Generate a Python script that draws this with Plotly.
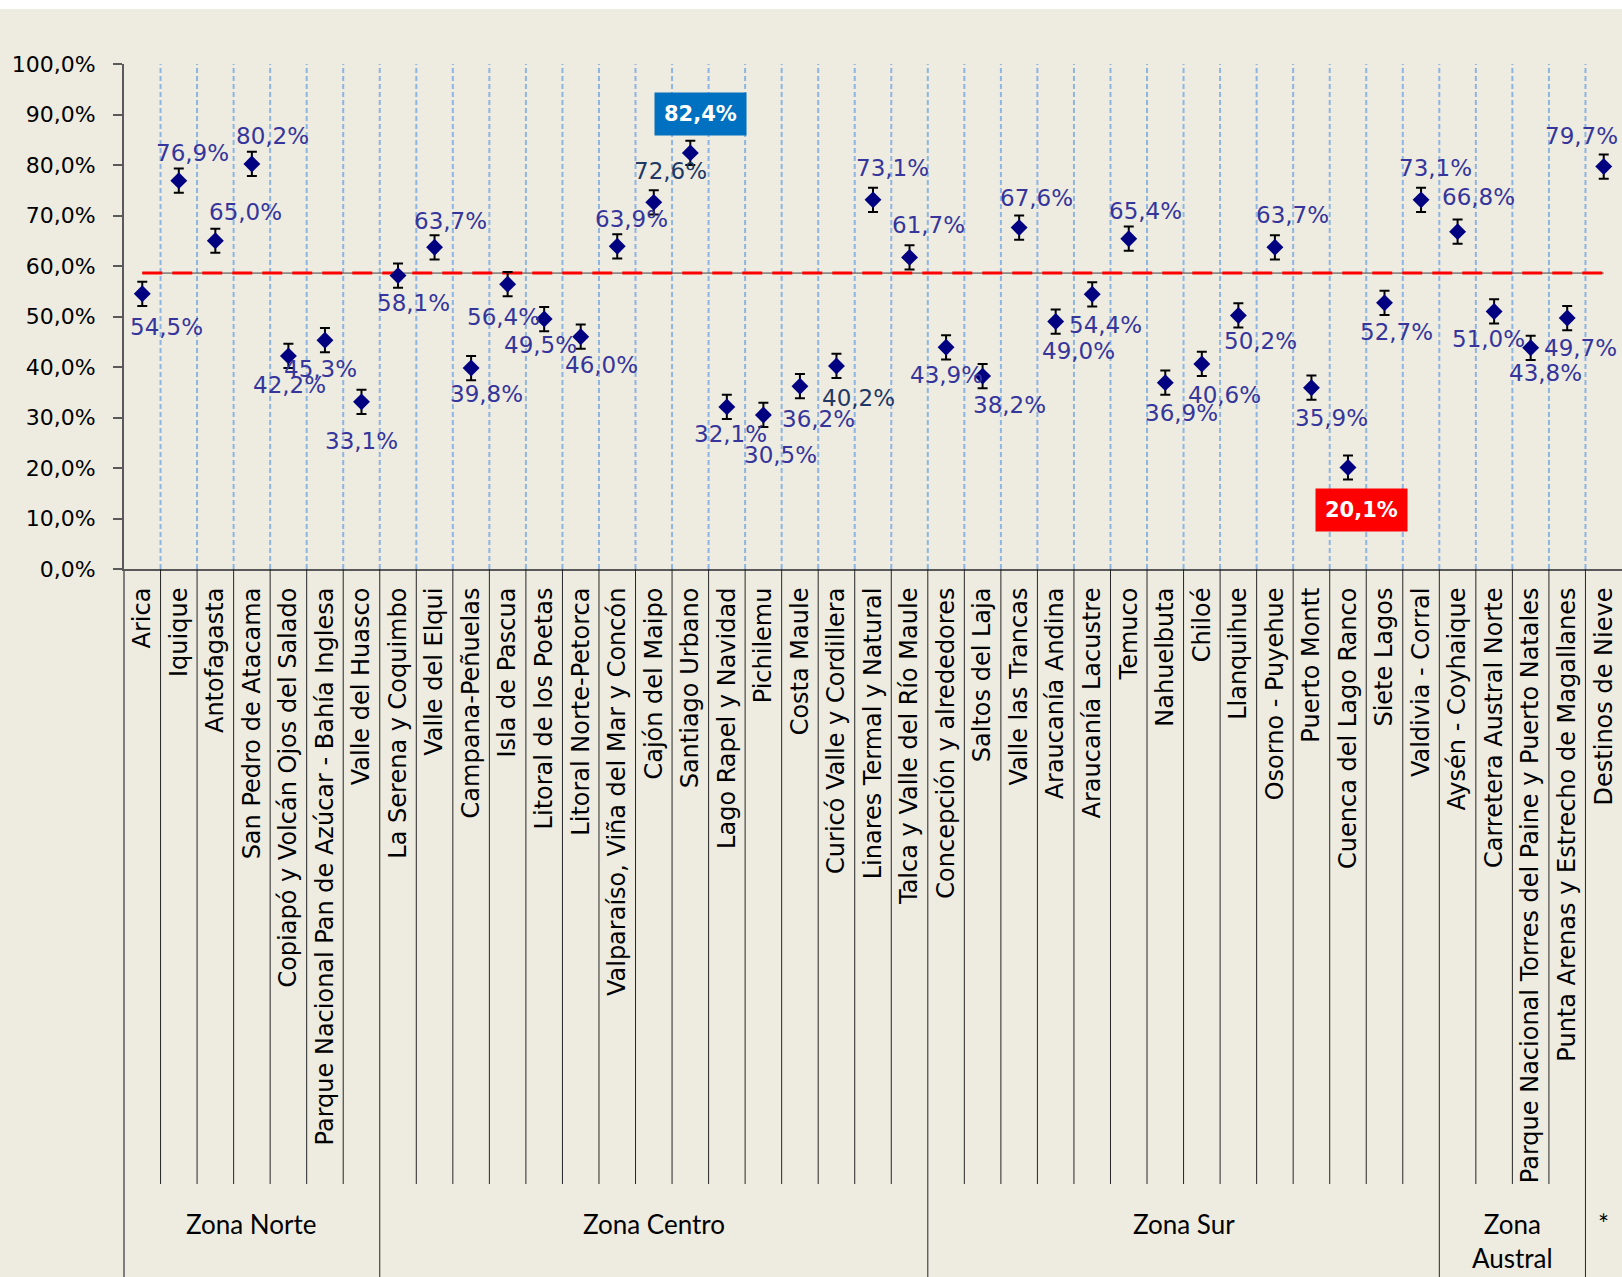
import plotly.graph_objects as go

# ---------------- data ----------------
categories = [
    "Arica", "Iquique", "Antofagasta", "San Pedro de Atacama",
    "Copiapó y Volcán Ojos del Salado", "Parque Nacional Pan de Azúcar - Bahía Inglesa",
    "Valle del Huasco",
    "La Serena y Coquimbo", "Valle del Elqui", "Campana-Peñuelas", "Isla de Pascua",
    "Litoral de los Poetas", "Litoral Norte-Petorca", "Valparaíso, Viña del Mar y Concón",
    "Cajón del Maipo", "Santiago Urbano", "Lago Rapel y Navidad", "Pichilemu",
    "Costa Maule", "Curicó Valle y Cordillera", "Linares Termal y Natural",
    "Talca y Valle del Río Maule",
    "Concepción y alrededores", "Saltos del Laja", "Valle las Trancas", "Araucanía Andina",
    "Araucanía Lacustre", "Temuco", "Nahuelbuta", "Chiloé", "Llanquihue",
    "Osorno - Puyehue", "Puerto Montt", "Cuenca del Lago Ranco", "Siete Lagos",
    "Valdivia - Corral",
    "Aysén - Coyhaique", "Carretera Austral Norte",
    "Parque Nacional Torres del Paine y Puerto Natales",
    "Punta Arenas y Estrecho de Magallanes",
    "Destinos de Nieve",
]

values = [
    54.5, 76.9, 65.0, 80.2, 42.2, 45.3, 33.1,
    58.1, 63.7, 39.8, 56.4, 49.5, 46.0, 63.9, 72.6, 82.4, 32.1, 30.5, 36.2, 40.2, 73.1, 61.7,
    43.9, 38.2, 67.6, 49.0, 54.4, 65.4, 36.9, 40.6, 50.2, 63.7, 35.9, 20.1, 52.7, 73.1,
    66.8, 51.0, 43.8, 49.7,
    79.7,
]

errors = [
    2.4, 2.4, 2.4, 2.4, 2.4, 2.4, 2.4,
    2.4, 2.4, 2.4, 2.4, 2.4, 2.4, 2.4, 2.4, 2.4, 2.4, 2.4, 2.4, 2.4, 2.4, 2.4,
    2.4, 2.4, 2.4, 2.4, 2.4, 2.4, 2.4, 2.4, 2.4, 2.4, 2.4, 2.4, 2.4, 2.4,
    2.4, 2.4, 2.4, 2.4,
    2.4,
]

mean_value = 58.6

groups = ["Zona Norte", "Zona Centro", "Zona Sur", "Zona<br>Austral", "*"]
group_sizes = [7, 15, 14, 4, 1]

y_ticks = [0, 10, 20, 30, 40, 50, 60, 70, 80, 90, 100]
y_tick_labels = ["0,0%", "10,0%", "20,0%", "30,0%", "40,0%", "50,0%",
                 "60,0%", "70,0%", "80,0%", "90,0%", "100,0%"]

# ---------------- styling (label placement in px: dx right, dy down) ----------------
label_offsets = [
    (24, 33), (14, -28), (30, -29), (21, -28), (1, 29), (-4, 29), (0, 39),
    (15, 27), (16, -26), (15, 26), (-4, 33), (-4, 26), (21, 28), (14, -27), (17, -31),
    (10, -39), (4, 27), (17, 40), (19, 33), (22, 32), (19, -32), (19, -32),
    (0, 28), (27, 29), (17, -30), (23, 29), (13, 31), (17, -28), (16, 30), (23, 31),
    (22, 26), (18, -32), (20, 30), (14, 42), (12, 29), (14, -32),
    (21, -35), (-6, 28), (15, 25), (13, 30),
    (-22, -31),
]
dark_labels = {"Cajón del Maipo", "Curicó Valle y Cordillera"}
boxed = {"Santiago Urbano": "#0070C0", "Cuenca del Lago Ranco": "#FF0000"}

BG = "#EEECE1"
LABEL_COLOR = "#35359B"
DARK_LABEL = "#1F3864"
FONT = "DejaVu Sans"

W, H = 1622, 1277
L, R, T, B = 124, 0, 64, 708
plot_h = H - T - B

n = len(categories)
xs = list(range(n))

fig = go.Figure()

# average line: thin dark line with red dashes over it
fig.add_trace(go.Scatter(x=xs, y=[mean_value] * n, mode="lines",
                         line=dict(color="#404040", width=1), hoverinfo="skip", showlegend=False))
fig.add_trace(go.Scatter(x=xs, y=[mean_value] * n, mode="lines",
                         line=dict(color="#FF0000", width=3, dash="20px,10px"),
                         hoverinfo="skip", showlegend=False))

# points with error bars
fig.add_trace(go.Scatter(
    x=xs, y=values, mode="markers",
    marker=dict(symbol="diamond", size=13, color="#000080"),
    error_y=dict(type="data", array=errors, visible=True, color="black", thickness=2, width=5),
    showlegend=False,
))

shapes = []
# vertical dashed gridlines at category boundaries
for i in range(n - 1):
    shapes.append(dict(type="line", xref="x", yref="paper", x0=i + 0.5, x1=i + 0.5, y0=0, y1=1,
                       line=dict(color="#8DB4E2", width=2, dash="5px,3px"), layer="below"))

# separators below the axis
sep_bottom = -(1184 - (T + plot_h)) / plot_h
full_bottom = -(H - (T + plot_h)) / plot_h - 0.05
group_edges = []
acc = 0
for s in group_sizes:
    acc += s
    group_edges.append(acc - 0.5)
for i in range(n - 1):
    xb = i + 0.5
    yb = full_bottom if xb in group_edges else sep_bottom
    shapes.append(dict(type="line", xref="x", yref="paper", x0=xb, x1=xb, y0=0, y1=yb,
                       line=dict(color="#262626", width=1)))
# left border extends to bottom
shapes.append(dict(type="line", xref="paper", yref="paper", x0=0, x1=0, y0=0, y1=full_bottom,
                   line=dict(color="#595959", width=1.5)))
# white strip at the very top
shapes.append(dict(type="rect", xref="paper", yref="paper", x0=-0.2, x1=1.05,
                   y0=(T + plot_h - 9) / plot_h, y1=(T + plot_h + 20) / plot_h,
                   fillcolor="white", line=dict(width=0)))

annotations = []
# data labels
for i, (cat, v) in enumerate(zip(categories, values)):
    dx, dy = label_offsets[i]
    txt = f"{v:.1f}%".replace(".", ",")
    if cat in boxed:
        annotations.append(dict(x=i, y=v, xref="x", yref="y", text=f"<b>{txt}</b>", showarrow=False,
                                xshift=dx, yshift=-dy, bgcolor=boxed[cat], borderpad=9,
                                font=dict(family=FONT, size=21, color="white")))
    else:
        col = DARK_LABEL if cat in dark_labels else LABEL_COLOR
        annotations.append(dict(x=i, y=v, xref="x", yref="y", text=txt, showarrow=False,
                                xshift=dx, yshift=-dy,
                                font=dict(family=FONT, size=23, color=col)))

# group labels
start = 0
for g, s in zip(groups, group_sizes):
    center = start + (s - 1) / 2
    two_line = "<br>" in g
    annotations.append(dict(x=center, y=-(1224 - (T + plot_h)) / plot_h, xref="x", yref="paper",
                            text=g, showarrow=False, yanchor="top" if two_line else "middle",
                            yshift=18 if two_line else 0,
                            font=dict(family="Lato", size=26, color="black")))
    start += s

fig.update_layout(
    width=W, height=H,
    margin=dict(l=L, r=R, t=T, b=B),
    paper_bgcolor=BG, plot_bgcolor=BG,
    shapes=shapes,
    annotations=annotations,
    showlegend=False,
    xaxis=dict(
        range=[-0.5, n - 0.5], tickmode="array", tickvals=xs, ticktext=categories,
        tickangle=-90, ticks="", showgrid=False, zeroline=False,
        showline=True, linecolor="#595959", linewidth=2,
        tickfont=dict(family=FONT, size=24, color="black"),
        ticklabelstandoff=7,
    ),
    yaxis=dict(
        range=[0, 100], tickmode="array", tickvals=y_ticks, ticktext=y_tick_labels,
        ticks="outside", ticklen=9, tickcolor="#595959", tickwidth=1.5,
        showline=True, linecolor="#595959", linewidth=2,
        showgrid=False, zeroline=False,
        tickfont=dict(family=FONT, size=22, color="black"),
        ticklabelstandoff=13,
    ),
)

fig.write_html(
    "out.html",
    config={"displayModeBar": False},
    post_script="document.body.style.margin='0';document.body.style.background='#EEECE1';",
)
